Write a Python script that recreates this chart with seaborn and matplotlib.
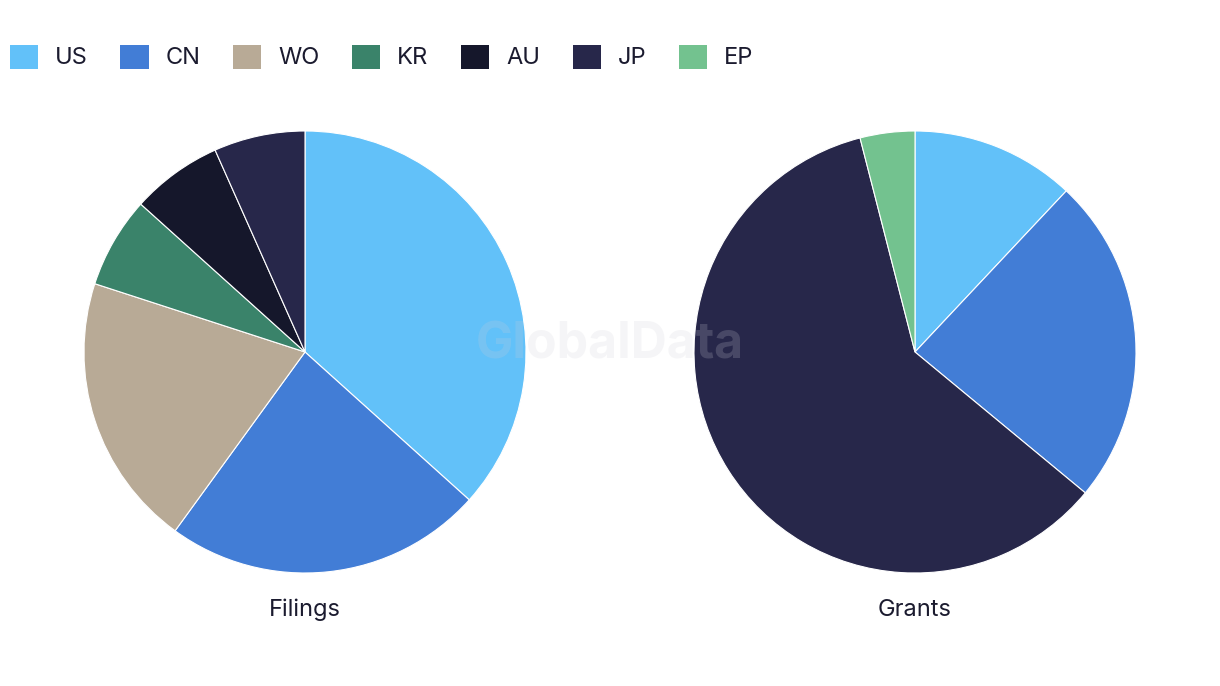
import matplotlib
matplotlib.use("Agg")
import matplotlib.pyplot as plt
from matplotlib.patches import Patch
import seaborn as sns

sns.set_theme(style="white")
plt.rcParams['font.family'] = ['Inter', 'DejaVu Sans']

# Data
legend_labels = ["US", "CN", "WO", "KR", "AU", "JP", "EP"]
legend_colors = ["#62C1F9", "#427DD6", "#B8AA96", "#3A836A", "#15172B", "#27274A", "#73C28F"]

filings_labels = ["US", "CN", "WO", "KR", "AU", "JP"]
filings_values = [11, 7, 6, 2, 2, 2]

grants_labels = ["US", "CN", "JP", "EP"]
grants_values = [3, 6, 15, 1]

color_map = dict(zip(legend_labels, legend_colors))
text_color = "#1B1B2F"

W, H = 1220, 686
fig = plt.figure(figsize=(W / 100, H / 100), dpi=100)
fig.patch.set_facecolor("white")

def pie_axes(cx, cy, r):
    return fig.add_axes([(cx - r) / W, (H - cy - r) / H, 2 * r / W, 2 * r / H])

for (cx, labels, values, title) in [(305, filings_labels, filings_values, "Filings"),
                                    (915, grants_labels, grants_values, "Grants")]:
    ax = pie_axes(cx, 352, 221)
    ax.pie(values, colors=[color_map[l] for l in labels], startangle=90,
           counterclock=False, radius=1,
           wedgeprops=dict(edgecolor="white", linewidth=0.8))
    ax.set_xlim(-1, 1)
    ax.set_ylim(-1, 1)
    ax.set_aspect("equal")
    ax.axis("off")
    fig.text(cx / W, 1 - 610 / H, title, ha="center", va="center",
             fontsize=17, color=text_color)

handles = [Patch(facecolor=c, edgecolor="none", label=l)
           for l, c in zip(legend_labels, legend_colors)]
leg = fig.legend(handles=handles, loc="center left", bbox_to_anchor=(10 / W, 1 - 57 / H),
                 ncol=7, frameon=False, fontsize=17, handlelength=1.19, handleheight=1.19,
                 handletextpad=0.72, columnspacing=1.38, borderaxespad=0, borderpad=0)
for t in leg.get_texts():
    t.set_color(text_color)

fig.text(610 / W, 1 - 345 / H, "GlobalData", ha="center", va="center",
         fontsize=36, fontweight="bold", color="#D0D0D8", alpha=0.2, zorder=10)

fig.savefig("out.png", dpi=100, facecolor="white")
